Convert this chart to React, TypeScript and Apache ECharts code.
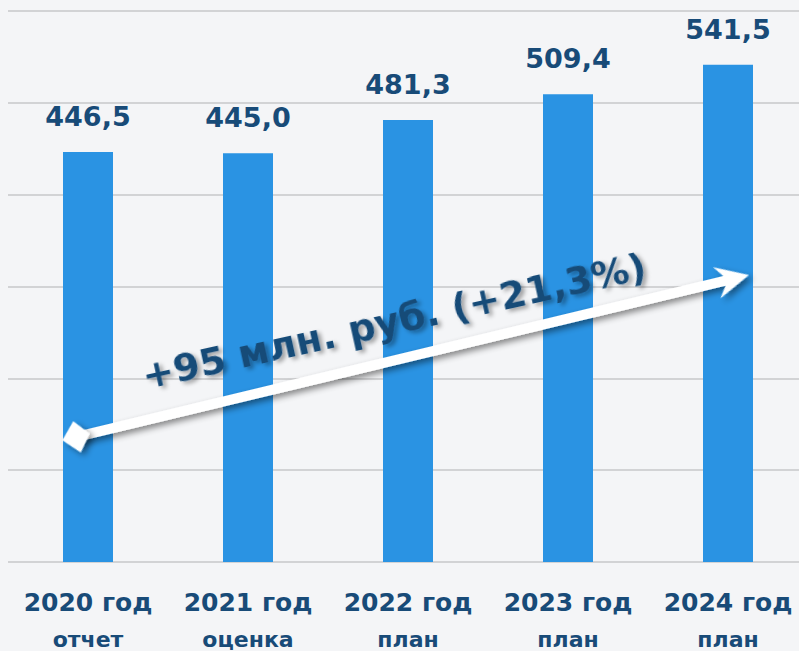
import React, { useEffect, useRef } from "react";
import * as echarts from "echarts";

const categories = ["2020 год", "2021 год", "2022 год", "2023 год", "2024 год"];
const subLabels = ["отчет", "оценка", "план", "план", "план"];
const values = [446.5, 445.0, 481.3, 509.4, 541.5];
const yMin = 0;
const yMax = 600;
const yInterval = 100;
const annotation = "+95 млн. руб. (+21,3%)";

const DARK = "#184b78";
const BAR = "#2a93e3";

export default function App() {
  const ref = useRef<HTMLDivElement>(null);

  useEffect(() => {
    if (!ref.current) return;
    document.body.style.overflow = "hidden";
    const chart = echarts.init(ref.current, undefined, { renderer: "svg" });

    const x0 = 76, y0 = 437, x1 = 749, y1 = 275;
    const L = Math.hypot(x1 - x0, y1 - y0);
    const ang = Math.atan2(y0 - y1, x1 - x0);
    const shadow = {
      shadowBlur: 6,
      shadowColor: "rgba(0,0,0,0.45)",
      shadowOffsetX: 3,
      shadowOffsetY: 4,
    };

    chart.setOption({
      animation: false,
      backgroundColor: "#f4f5f7",
      grid: { left: 8, right: 0, top: 11, bottom: 89, containLabel: false },
      xAxis: {
        type: "category",
        data: categories,
        axisLine: { show: false },
        axisTick: { show: false },
        axisLabel: {
          interval: 0,
          margin: 22,
          formatter: (v: string, i: number) => `{a|${v}}\n{b|${subLabels[i]}}`,
          rich: {
            a: {
              fontFamily: "DejaVu Sans",
              fontWeight: "bold",
              fontSize: 25,
              color: DARK,
              lineHeight: 36,
            },
            b: {
              fontFamily: "DejaVu Sans",
              fontWeight: "bold",
              fontSize: 22,
              color: DARK,
              lineHeight: 38,
            },
          },
        },
      },
      yAxis: {
        type: "value",
        min: yMin,
        max: yMax,
        interval: yInterval,
        axisLabel: { show: false },
        axisLine: { show: false },
        axisTick: { show: false },
        splitLine: { lineStyle: { color: "#d2d3d5", width: 2 } },
      },
      series: [
        {
          type: "bar",
          data: values,
          barWidth: 50,
          itemStyle: { color: BAR },
          label: {
            show: true,
            position: "top",
            distance: 22,
            fontFamily: "DejaVu Sans",
            fontWeight: "bold",
            fontSize: 27,
            color: DARK,
            formatter: (p: any) => p.value.toFixed(1).replace(".", ","),
          },
        },
      ],
      graphic: [
        {
          type: "group",
          x: x0,
          y: y0,
          rotation: ang,
          z: 100,
          children: [
            {
              type: "polygon",
              z: 100,
              shape: {
                points: [
                  [0, -5],
                  [L - 25, -5],
                  [L - 33, -16],
                  [L, 0],
                  [L - 33, 16],
                  [L - 25, 5],
                  [0, 5],
                ],
              },
              style: { fill: "#ffffff", ...shadow },
            },
            {
              type: "polygon",
              z: 100,
              shape: {
                points: [
                  [-14, 0],
                  [1, -16],
                  [14, 0],
                  [1, 16],
                ],
              },
              style: { fill: "#ffffff", ...shadow },
            },
          ],
        },
        {
          type: "text",
          x: 394,
          y: 321,
          rotation: (12.5 * Math.PI) / 180,
          z: 101,
          style: {
            text: annotation,
            fontFamily: "DejaVu Sans",
            fontWeight: "bold",
            fontSize: 38,
            fill: DARK,
            align: "center",
            verticalAlign: "middle",
            textShadowColor: "rgba(0,0,0,0.35)",
            textShadowBlur: 4,
            textShadowOffsetX: 3,
            textShadowOffsetY: 3,
          },
        },
      ],
    });

    return () => chart.dispose();
  }, []);

  return (
    <div
      ref={ref}
      style={{ position: "fixed", left: 0, top: 0, width: 808, height: 651 }}
    />
  );
}
